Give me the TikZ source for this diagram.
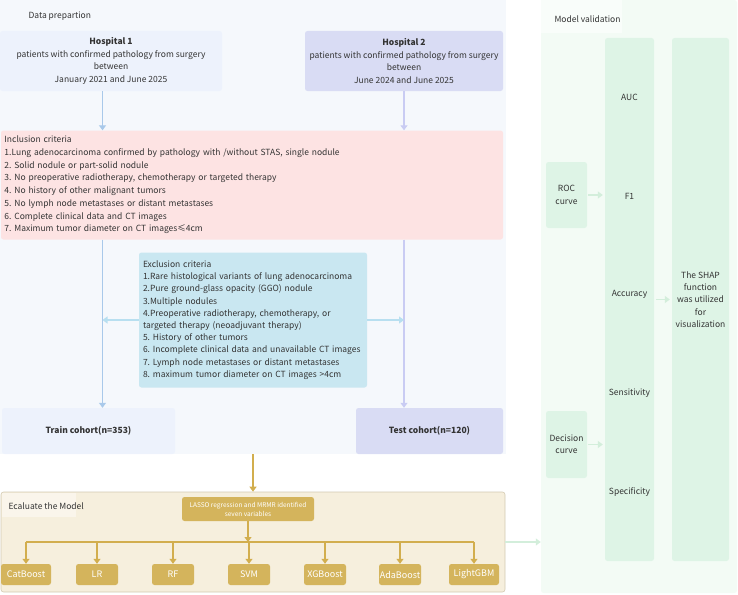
\documentclass[tikz,border=0pt]{standalone}
\usepackage{fontspec}
\setmainfont{Noto Sans CJK SC}
\usetikzlibrary{arrows.meta}
\definecolor{txt}{HTML}{333333}
\definecolor{databg}{HTML}{F5F8FC}
\definecolor{hospa}{HTML}{EDF2FC}
\definecolor{hospb}{HTML}{D9DCF4}
\definecolor{inclbg}{HTML}{FDE3E3}
\definecolor{exclbg}{HTML}{C9E7F1}
\definecolor{bluearr}{HTML}{A9C9EA}
\definecolor{lavarr}{HTML}{C9CCF3}
\definecolor{exclarr}{HTML}{B8DFF0}
\definecolor{gold}{HTML}{D4B45C}
\definecolor{goldarr}{HTML}{D2AE4E}
\definecolor{evalbg}{HTML}{F6EFDD}
\definecolor{evalline}{HTML}{D3CAB2}
\definecolor{valbg}{HTML}{F3FBF5}
\definecolor{valbox}{HTML}{DEF4E6}
\definecolor{valarr}{HTML}{D3EEDB}
\frenchspacing

\begin{document}
\hyphenpenalty=10000
\begin{tikzpicture}[x=1pt,y=-1pt,
    font=\fontsize{8.5}{12.7}\selectfont, text=txt,
    box/.style={rounded corners=2.5pt, inner sep=0pt, align=center},
    arr/.style={line width=1.1pt, -{Triangle[length=5pt,width=7pt]}},
    model/.style={box, fill=gold, text=white, minimum width=42pt, minimum height=21pt,
                  font=\fontsize{9}{11}\selectfont},
    valtext/.style={font=\fontsize{8.5}{12.3}\selectfont, align=center}]
\useasboundingbox (0,0) rectangle (738,594);

% panels
\node[fill=databg, inner sep=0pt, minimum width=506pt, minimum height=454pt] (datap) at (253,227) {};
\node[anchor=west] (datalbl) at (25,16) {Data prepartion};
\node[box, fill=evalbg, draw=evalline, line width=0.6pt, minimum width=504pt, minimum height=100pt] (evalp) at (253,542) {};
\fill[evalbg!60!white] (1.5,492.5) rectangle (76,517);
\node[anchor=west] (evallbl) at (5,506) {Ecaluate the Model};
\node[box, fill=valbg, minimum width=196pt, minimum height=593pt] (valp) at (639,296.5) {};
\fill[valbg!50!white] (541,0) rectangle (622,33);
\node[anchor=west] (vallbl) at (551,19) {Model validation};

% data preparation
\node[box, fill=hospa, minimum width=222pt, minimum height=60pt] (hosp1) at (111,61)
  {\textbf{Hospital 1}\\patients with confirmed pathology from surgery\\between\\January 2021 and June 2025};
\node[box, fill=hospb, minimum width=198pt, minimum height=60pt] (hosp2) at (404,61)
  {\textbf{Hospital 2}\\patients with confirmed pathology from surgery\\between\\June 2024 and June 2025};
\node[box, fill=inclbg, align=left, text width=495pt, inner xsep=3.5pt, minimum height=109pt] (incl) at (252,185)
  {Inclusion criteria\\
   1.Lung adenocarcinoma confirmed by pathology with /without STAS, single nodule\\
   2. Solid nodule or part-solid nodule\\
   3. No preoperative radiotherapy, chemotherapy or targeted therapy\\
   4. No history of other malignant tumors\\
   5. No lymph node metastases or distant metastases\\
   6. Complete clinical data and CT images\\
   7. Maximum tumor diameter on CT images≤4cm};
\node[box, fill=exclbg, align=left, text width=220pt, inner xsep=4pt, minimum height=135pt,
      font=\fontsize{8.5}{12.2}\selectfont] (excl) at (253,320)
  {Exclusion criteria\\
   1.Rare histological variants of lung adenocarcinoma\\
   2.Pure ground-glass opacity (GGO) nodule\\
   3.Multiple nodules\\
   4.Preoperative radiotherapy, chemotherapy, or\\
   targeted therapy (neoadjuvant therapy)\\
   5. History of other tumors\\
   6. Incomplete clinical data and unavailable CT images\\
   7. Lymph node metastases or distant metastases\\
   8. maximum tumor diameter on CT images >4cm};
\node[box, fill=hospa, minimum width=173pt, minimum height=46pt, font=\fontsize{8.5}{12}\bfseries] (train) at (88.5,431) {Train cohort(n=353)};
\node[box, fill=hospb, minimum width=147pt, minimum height=46pt, font=\fontsize{8.5}{12}\bfseries] (test) at (429.5,431) {Test cohort(n=120)};

\coordinate (lcol) at (102.5,0);
\coordinate (rcol) at (404,0);
\draw[arr, bluearr] (hosp1.south -| lcol) -- (incl.north -| lcol);
\draw[arr, lavarr] (hosp2.south -| rcol) -- (incl.north -| rcol);
\draw[arr, bluearr] (incl.south -| lcol) -- (train.north -| lcol);
\draw[arr, lavarr] (incl.south -| rcol) -- (test.north -| rcol);
\draw[arr, exclarr] (excl.west) -- (excl.west -| lcol);
\draw[arr, exclarr] (excl.east) -- (excl.east -| rcol);

% model evaluation
\coordinate (gx) at (253,0);
\draw[arr, goldarr] (datap.south -| gx) -- (evalp.north -| gx);
\node[box, fill=gold, text=white, minimum width=132pt, minimum height=24pt,
      font=\fontsize{6.5}{9}\selectfont] (lasso) at (248,509)
  {LASSO regression and MRMR identified\\seven variables};
\coordinate (bus) at (0,542);
\foreach \name/\lbl/\cx/\w in {cat/CatBoost/26/50, lr/LR/97/42, rf/RF/173/42, svm/SVM/249/42,
    xgb/XGBoost/325/42, ada/AdaBoost/400/42, lgbm/LightGBM/474/50}{
  \node[model, minimum width=\w pt] (\name) at (\cx,574.5) {\lbl};
}
\draw[arr, goldarr] (lasso.south) -- (lasso.south |- bus);
\draw[goldarr, line width=1.1pt] (cat.north |- bus) -- (lgbm.north |- bus);
\foreach \name in {cat,lr,rf,svm,xgb,ada,lgbm}
  \draw[arr, goldarr] (\name.north |- bus) -- (\name.north);

% model validation
\draw[arr, valarr] (evalp.east) -- (evalp.east -| valp.west);
\node[box, fill=valbox, minimum width=41pt, minimum height=66pt, valtext] (roc) at (566.5,195) {ROC\\curve};
\node[box, fill=valbox, minimum width=41pt, minimum height=67pt, valtext] (dec) at (566.5,444.5) {Decision\\curve};
\node[box, fill=valbox, minimum width=49pt, minimum height=523pt] (metrics) at (629.5,299.5) {};
\node[box, fill=valbox, minimum width=57pt, minimum height=523pt, valtext] (shap) at (700.5,299.5)
  {The SHAP\\function\\was utilized\\for\\visualization};
\foreach \name/\lbl/\cy in {auc/AUC/97, fone/F1/196, acc/Accuracy/294, sens/Sensitivity/393, spec/Specificity/492}
  \node[valtext] (\name) at (629.5,\cy) {\lbl};
\draw[arr, valarr, shorten <=1pt, shorten >=2pt] (roc.east) -- (roc.east -| metrics.west);
\draw[arr, valarr, shorten <=1pt, shorten >=2pt] (dec.east) -- (dec.east -| metrics.west);
\draw[arr, valarr, shorten <=2pt, shorten >=2pt] (metrics.east) -- (shap.west);
\end{tikzpicture}
\end{document}
